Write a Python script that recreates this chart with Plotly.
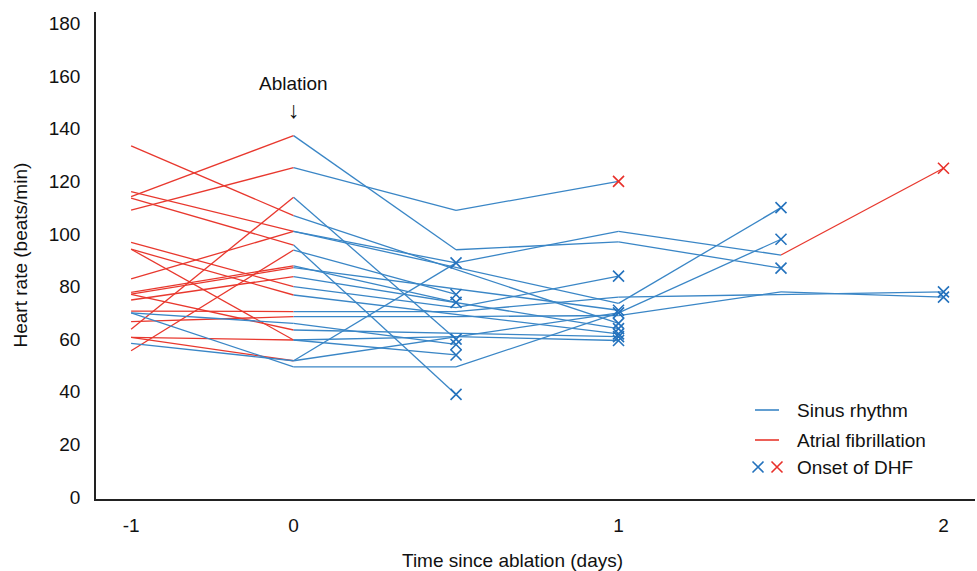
import plotly.graph_objects as go

# ---------------- data (heart rate, beats/min) ----------------
# one entry per patient; None = no measurement at that time point
hr_day_m1 = [114.2, 109.1, 63.8, 133.5, 116.1, 82.9, 113.6, 55.6, 77.8, 77.1, 74.9,
             96.8, 94.2, 70.7, 66.7, 70.0, 77.0, 94.2, 60.7, 60.7, 70.0, 58.4]
hr_day_0 = [137.4, 125.2, 114.0, 107.0, 101.0, 101.0, 95.8, 93.9, 87.9, 87.2, 83.8,
            80.0, 76.8, 70.5, 68.6, 66.0, 63.5, 59.7, 59.7, 51.8, 49.5, 51.8]
hr_day_05 = [94.0, 109.0, 60.0, None, 89.0, None, 39.0, 77.0, 74.0, None, None,
             72.0, None, 70.5, 68.6, 58.0, None, 54.0, 61.0, None, 49.5, 89.0]
hr_day_1 = [97.0, 120.0, None, 66.0, None, 73.6, None, None, None, 71.0, 64.0,
            84.0, 62.0, 76.0, 69.0, None, 61.0, None, 59.5, 70.0, 70.0, 101.0]
hr_day_15 = [87.0, None, None, None, None, 110.0, None, None, None, None, None,
             None, None, None, 78.0, None, None, None, None, None, 98.0, 92.0]
hr_day_2 = [None, None, None, None, None, None, None, None, None, None, None,
            None, None, 78.0, 76.0, None, None, None, None, None, None, 125.0]

# rhythm before ablation, rhythm of the final segment, rhythm at onset of DHF
rhythm_pre = ["AF"] * 15 + ["SR"] + ["AF"] * 4 + ["SR", "SR"]
rhythm_final_segment = ["SR"] * 21 + ["AF"]
rhythm_at_dhf = ["SR", "AF"] + ["SR"] * 19 + ["AF"]

days = [-1, 0, 0.5, 1, 1.5, 2]
tick_days = [-1, 0, 1, 2]
tick_labels = ["-1", "0", "1", "2"]
y_ticks = [0, 20, 40, 60, 80, 100, 120, 140, 160, 180]

BLUE = "#3a86c6"
RED = "#e8382e"
BLUE_M = "#2472bd"
RED_M = "#e8302a"
FONT = "Liberation Sans, Arial, sans-serif"
FS = 19


def xpos(day):
    # the pre-ablation day is drawn on a compressed (half-width) scale
    return day * 0.5 if day < 0 else day


series = [hr_day_m1, hr_day_0, hr_day_05, hr_day_1, hr_day_15, hr_day_2]

seg = {"SR": ([], []), "AF": ([], [])}
mk = {"SR": ([], []), "AF": ([], [])}
for p in range(len(hr_day_0)):
    pts = [(xpos(d), s[p]) for d, s in zip(days, series) if s[p] is not None]
    nseg = len(pts) - 1
    for i in range(nseg):
        if i == 0 and pts[0][0] < 0:
            r = rhythm_pre[p]
        elif i == nseg - 1:
            r = rhythm_final_segment[p]
        else:
            r = "SR"
        xs, ys = seg[r]
        xs += [pts[i][0], pts[i + 1][0], None]
        ys += [pts[i][1], pts[i + 1][1], None]
    mx, my = mk[rhythm_at_dhf[p]]
    mx.append(pts[-1][0])
    my.append(pts[-1][1])

fig = go.Figure()
for r, col in (("AF", RED), ("SR", BLUE)):
    fig.add_trace(go.Scatter(x=seg[r][0], y=seg[r][1], mode="lines",
                             line=dict(color=col, width=1.3),
                             hoverinfo="skip", showlegend=False))
for r, col in (("SR", BLUE_M), ("AF", RED_M)):
    fig.add_trace(go.Scatter(x=mk[r][0], y=mk[r][1], mode="markers",
                             marker=dict(symbol="x-thin", size=11, color=col,
                                         line=dict(color=col, width=1.6)),
                             showlegend=False))

# ---------------- manual legend ----------------
L, R, T, B = 96, 975, 12, 499
W, H = R - L, B - T


def px(x):
    return (x - L) / W


def py(y):
    return (B - y) / H


legend_items = [("Sinus rhythm", 410), ("Atrial fibrillation", 440), ("Onset of DHF", 467)]
shapes = []
for (label, yy), col in zip(legend_items[:2], (BLUE, RED)):
    shapes.append(dict(type="line", xref="paper", yref="paper",
                       x0=px(755), x1=px(779), y0=py(yy), y1=py(yy),
                       line=dict(color=col, width=1.6)))
fig.add_trace(go.Scatter(x=[px(758), px(777)], y=[py(467), py(467)],
                         mode="markers", xaxis="x2", yaxis="y2",
                         marker=dict(symbol="x-thin", size=11, color=[BLUE_M, RED_M],
                                     line=dict(color=[BLUE_M, RED_M], width=1.6)),
                         showlegend=False, hoverinfo="skip"))

annotations = [dict(xref="paper", yref="paper", x=px(795), y=py(yy), text=label,
                    showarrow=False, xanchor="left", yanchor="middle",
                    font=dict(size=FS, color="#111", family=FONT))
               for label, yy in legend_items]
annotations += [
    dict(x=0, y=157.2, text="Ablation", showarrow=False,
         font=dict(size=FS, color="#111", family=FONT)),
    dict(x=0, y=147.0, text="↓", showarrow=False,
         font=dict(size=23, color="#111", family=FONT)),
    dict(xref="paper", yref="paper", x=px(512), y=py(560), text="Time since ablation (days)",
         showarrow=False, xanchor="center", yanchor="middle",
         font=dict(size=FS, color="#111", family=FONT)),
    dict(xref="paper", yref="paper", x=px(20), y=0.5, text="Heart rate (beats/min)",
         showarrow=False, textangle=-90, xanchor="center", yanchor="middle",
         font=dict(size=FS, color="#111", family=FONT)),
]

fig.update_layout(
    width=977, height=571,
    margin=dict(l=L, r=977 - R, t=T, b=571 - B),
    paper_bgcolor="white", plot_bgcolor="white",
    font=dict(family=FONT, size=FS, color="#111"),
    xaxis=dict(range=[-0.608, 2.097], tickvals=[xpos(d) for d in tick_days],
               ticktext=tick_labels, showgrid=False, zeroline=False,
               showline=True, linecolor="#222", linewidth=1.6,
               ticks="outside", ticklen=8, tickcolor="rgba(0,0,0,0)",
               tickfont=dict(size=FS, color="#111"), fixedrange=True),
    yaxis=dict(range=[-0.76, 184.4], tickvals=y_ticks, showgrid=False, zeroline=False,
               showline=True, linecolor="#222", linewidth=1.6,
               ticks="outside", ticklen=10, tickcolor="rgba(0,0,0,0)",
               tickfont=dict(size=FS, color="#111"), fixedrange=True),
    xaxis2=dict(overlaying="x", range=[0, 1], visible=False, fixedrange=True),
    yaxis2=dict(overlaying="y", range=[0, 1], visible=False, fixedrange=True),
    shapes=shapes, annotations=annotations, showlegend=False,
)

fig.write_html("out.html")
